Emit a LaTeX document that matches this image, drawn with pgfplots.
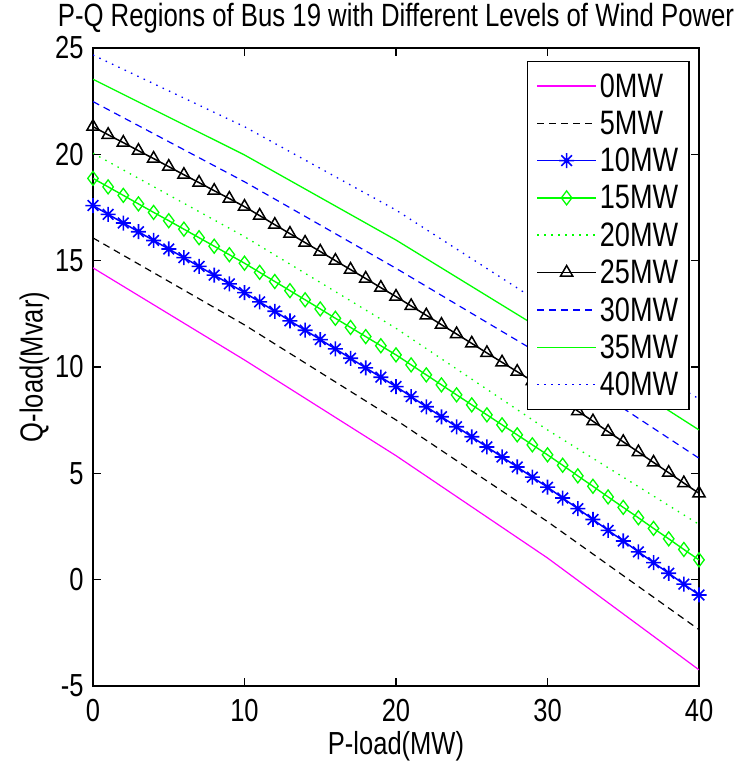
\documentclass[border=0pt]{standalone}
\usepackage{fontspec}
\setmainfont{Liberation Sans}[FakeStretch=0.8]
\usepackage{pgfplots}
\pgfplotsset{compat=1.18}
\definecolor{mmag}{rgb}{1,0,1}
\definecolor{mblue}{rgb}{0,0,1}
\definecolor{mgreen}{rgb}{0,1,0}
\newcommand\bigf{\fontsize{32}{38}\selectfont}
\newcommand\titf{\fontsize{32.3}{36}\selectfont}
\newcommand\legf{\fontsize{34}{40}\selectfont}
\pgfdeclareplotmark{mstar}{%
 \pgfpathmoveto{\pgfqpoint{-\pgfplotmarksize}{0pt}}\pgfpathlineto{\pgfqpoint{\pgfplotmarksize}{0pt}}%
 \pgfpathmoveto{\pgfqpoint{0pt}{-\pgfplotmarksize}}\pgfpathlineto{\pgfqpoint{0pt}{\pgfplotmarksize}}%
 \pgfpathmoveto{\pgfqpoint{-.707\pgfplotmarksize}{-.707\pgfplotmarksize}}\pgfpathlineto{\pgfqpoint{.707\pgfplotmarksize}{.707\pgfplotmarksize}}%
 \pgfpathmoveto{\pgfqpoint{-.707\pgfplotmarksize}{.707\pgfplotmarksize}}\pgfpathlineto{\pgfqpoint{.707\pgfplotmarksize}{-.707\pgfplotmarksize}}%
 \pgfusepathqstroke}
\begin{document}
\begin{tikzpicture}
\useasboundingbox (0,0) rectangle (741bp,763bp);
\begin{axis}[
  at={(93bp,77bp)}, anchor=south west,
  scale only axis, width=606bp, height=638bp,
  xmin=0, xmax=40, ymin=-5, ymax=25,
  xtick={0,10,20,30,40}, ytick={-5,0,5,10,15,20,25},
  tick align=inside, major tick length=8bp,
  axis line style={line width=1.5bp},
  every tick/.style={black, line width=1.2bp},
  /pgf/number format/assume math mode=true,
  ticklabel style={font=\bigf},
  xticklabel style={yshift=-10bp},
  yticklabel style={xshift=-6bp},
  title={P-Q Regions of Bus 19 with Different Levels of Wind Power},
  title style={font=\titf, yshift=5bp},
  xlabel={P-load(MW)}, ylabel={Q-load(Mvar)},
  label style={font=\bigf},
  xlabel style={yshift=-2bp},
  ylabel style={yshift=-1bp},
  every axis plot/.append style={line width=1.2bp},
  legend cell align=left,
  legend style={at={(0.985,0.98)}, anchor=north east, line width=1.5bp,
    font=\legf, inner xsep=9bp, inner ysep=10bp, row sep=8.3bp, column sep=1bp},
  legend image code/.code={\draw[mark repeat=2,mark phase=2] plot coordinates {(0bp,0bp) (29.5bp,0bp) (59bp,0bp)};},
]
\addplot[color=mmag, solid, line width=1.2bp] coordinates {(0,14.66)(10,10.33)(20,5.83)(30,1.02)(40,-4.24)};
\addlegendentry{0MW}
\addplot[color=black, dash pattern=on 7bp off 5bp, line width=1.2bp] coordinates {(0,16.07)(10,11.98)(20,7.51)(30,2.73)(40,-2.35)};
\addlegendentry{5MW}
\addplot[color=mblue, solid, line width=1.5bp, mark=mstar, mark size=7.5bp, mark options={solid, line width=1.6bp}] coordinates {
(0,17.59)(1,17.18)(2,16.77)(3,16.36)(4,15.95)(5,15.55)(6,15.14)(7,14.73)(8,14.32)(9,13.91)(10,13.50)
(11,13.06)(12,12.62)(13,12.17)(14,11.73)(15,11.29)(16,10.85)(17,10.41)(18,9.96)(19,9.52)(20,9.08)
(21,8.61)(22,8.13)(23,7.66)(24,7.19)(25,6.72)(26,6.24)(27,5.77)(28,5.30)(29,4.82)(30,4.35)
(31,3.84)(32,3.34)(33,2.83)(34,2.32)(35,1.82)(36,1.31)(37,0.80)(38,0.30)(39,-0.21)(40,-0.72)};
\addlegendentry{10MW}
\addplot[color=mgreen, solid, line width=1.4bp, mark=diamond, mark size=7bp, mark options={solid, line width=1.3bp}] coordinates {
(0,18.87)(1,18.47)(2,18.07)(3,17.67)(4,17.27)(5,16.88)(6,16.48)(7,16.08)(8,15.68)(9,15.28)(10,14.88)
(11,14.45)(12,14.02)(13,13.59)(14,13.16)(15,12.73)(16,12.29)(17,11.86)(18,11.43)(19,11.00)(20,10.57)
(21,10.10)(22,9.63)(23,9.16)(24,8.69)(25,8.22)(26,7.75)(27,7.28)(28,6.81)(29,6.34)(30,5.87)
(31,5.38)(32,4.88)(33,4.39)(34,3.89)(35,3.40)(36,2.91)(37,2.41)(38,1.92)(39,1.42)(40,0.93)};
\addlegendentry{15MW}
\addplot[color=mgreen, dash pattern=on 1.5bp off 5.5bp, line width=1.3bp] coordinates {(0,20.05)(10,16.13)(20,11.82)(30,7.04)(40,2.60)};
\addlegendentry{20MW}
\addplot[color=black, solid, line width=1.5bp, mark=triangle, mark size=7bp, mark options={solid, line width=1.5bp}] coordinates {
(0,21.30)(1,20.92)(2,20.55)(3,20.17)(4,19.80)(5,19.42)(6,19.04)(7,18.67)(8,18.29)(9,17.92)(10,17.54)
(11,17.12)(12,16.69)(13,16.27)(14,15.85)(15,15.43)(16,15.00)(17,14.58)(18,14.16)(19,13.73)(20,13.31)
(21,12.87)(22,12.43)(23,11.99)(24,11.55)(25,11.11)(26,10.66)(27,10.22)(28,9.78)(29,9.34)(30,8.90)
(31,8.42)(32,7.93)(33,7.45)(34,6.96)(35,6.48)(36,6.00)(37,5.51)(38,5.03)(39,4.54)(40,4.06)};
\addlegendentry{25MW}
\addplot[color=mblue, dash pattern=on 7bp off 5bp, line width=1.2bp] coordinates {(0,22.48)(10,18.71)(20,14.64)(30,10.40)(40,5.71)};
\addlegendentry{30MW}
\addplot[color=mgreen, solid, line width=1.3bp] coordinates {(0,23.53)(5,21.75)(10,19.97)(20,15.97)(30,11.60)(40,7.04)};
\addlegendentry{35MW}
\addplot[color=mblue, dash pattern=on 1.5bp off 5.5bp, line width=1.3bp] coordinates {(0,24.67)(10,21.30)(20,17.38)(30,12.80)(40,8.50)};
\addlegendentry{40MW}
\end{axis}
\end{tikzpicture}
\end{document}
